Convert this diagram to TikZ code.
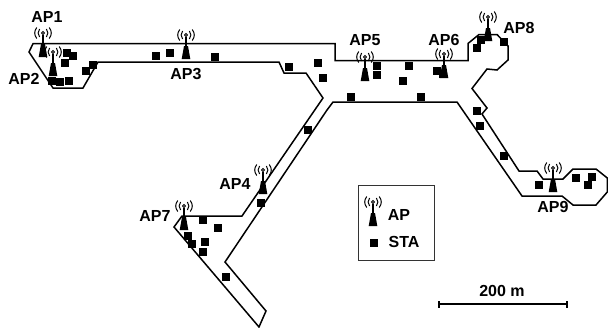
\documentclass[tikz,border=0pt]{standalone}
\usepackage{fontspec}
\setmainfont{Liberation Sans}
\tikzset{
  lbl/.style={font=\fontsize{16}{16}\selectfont\bfseries,inner sep=0pt,text=black},
  wall/.style={draw=black,line width=1.5pt,line join=miter},
  frame/.style={draw=black!80,line width=0.9pt},
  sta/.pic={\fill[black] (-3.9,-3.9) rectangle (3.9,3.9);},
  apicon/.pic={
    \draw[black,line width=0.9pt] (0,0) circle (1.6);
    \draw[black,line width=1pt] (-3.4,-4) .. controls (-5.4,-1.5) and (-5.4,1.5) .. (-3.4,4);
    \draw[black,line width=1pt] (3.4,-4) .. controls (5.4,-1.5) and (5.4,1.5) .. (3.4,4);
    \draw[black,line width=1pt] (-6.2,-5.5) .. controls (-9,-2) and (-9,2) .. (-6.2,5.5);
    \draw[black,line width=1pt] (6.2,-5.5) .. controls (9,-2) and (9,2) .. (6.2,5.5);
    \draw[black,line width=1.2pt] (0,1.5) -- (0,13);
    \fill[black] (-2,11) -- (2,11) -- (4.3,24) -- (-4.3,24) -- cycle;
  }
}
\begin{document}
\begin{tikzpicture}[x=1pt,y=-1pt]
\useasboundingbox (0,0) rectangle (608,327);
\draw[wall] (33,43.7) -- (335,43.7) -- (335,60.5) -- (468,60.5) -- (468,43.5) -- (479,34.5) -- (497,34.5)
  -- (508,46) -- (508,60) -- (497,70) -- (487,69) -- (472,88.5) -- (487,108) -- (482,114) -- (519,171)
  -- (537,171) -- (543,179) -- (563,179) -- (573,169) -- (596,169) -- (607.3,178) -- (607.3,192)
  -- (596,205) -- (573,205) -- (562,196) -- (522,196) -- (457,102) -- (333,102) -- (327,110)
  -- (225,262) -- (266,311) -- (259,327) -- (174,227) -- (182,216) -- (242,216) -- (323,98)
  -- (306,73) -- (284,73) -- (279,62) -- (98,62) -- (83,88) -- (53,88) -- (29,52) -- cycle;
% stations
\foreach \x/\y in {67/53,73/56,65/63,93/65,86/71,52/81,60/82,69/81,156/56,170/53,215/57,289/67,318/63,323/78,351/97,
  377/66,377/75,409/66,403/81,421/97,437/71,443/74,481/40,477/48,504/42,477/111,480/126,504/156,539/185,576/178,
  592/177,588/185,308/130,261/203,203/220,218/228,188/236,192/244,205/242,203/252,226/277}
  \pic at (\x,\y) {sta};
% access points
\foreach \x/\y in {43/33,53/52,186/35,263/170,365/57,444/54,184/206,488/17,553/168}
  \pic at (\x,\y) {apicon};
\node[lbl] (ap1) at (47,17) {AP1};
\node[lbl] (ap2) at (24,79) {AP2};
\node[lbl] (ap3) at (186,74) {AP3};
\node[lbl] (ap4) at (235,184) {AP4};
\node[lbl] (ap5) at (365,40) {AP5};
\node[lbl] (ap6) at (444,40) {AP6};
\node[lbl] (ap7) at (155,216) {AP7};
\node[lbl] (ap8) at (519,28) {AP8};
\node[lbl] (ap9) at (553,207) {AP9};
% legend
\draw[frame] (358,185) rectangle (434,260);
\pic at (373,202) {apicon};
\pic at (374,243) {sta};
\node[lbl] (legap) at (399,215) {AP};
\node[lbl] (legsta) at (404,242) {STA};
% scale bar
\coordinate (sa) at (439,304);
\coordinate (sb) at (567,304);
\draw[black,line width=1.4pt] (sa) -- (sb);
\draw[black,line width=1.1pt] ([yshift=-3.5pt]sa) -- ([yshift=3.5pt]sa);
\draw[black,line width=1.1pt] ([yshift=-3.5pt]sb) -- ([yshift=3.5pt]sb);
\node[lbl] (scale) at (502,291) {200 m};
\end{tikzpicture}
\end{document}
